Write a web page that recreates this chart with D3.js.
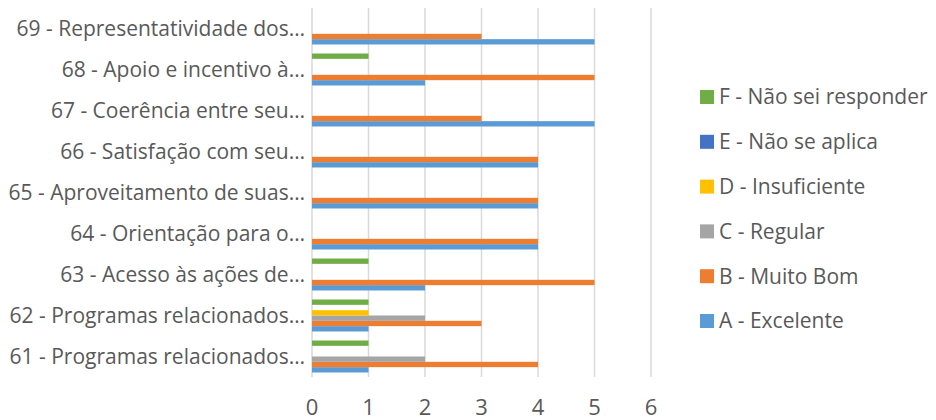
<!DOCTYPE html>
<meta charset="utf-8">
<style>
body { margin: 0; background: #fff; }
text { font-family: "Open Sans", sans-serif; fill: #595959; }
</style>
<body>
<svg width="936" height="420"></svg>
<script src="https://cdn.jsdelivr.net/npm/d3@7"></script>
<script>

var categories = [
  "61 - Programas relacionados…",
  "62 - Programas relacionados…",
  "63 - Acesso às ações de…",
  "64 - Orientação para o…",
  "65 - Aproveitamento de suas…",
  "66 - Satisfação com seu…",
  "67 - Coerência entre seu…",
  "68 - Apoio e incentivo à…",
  "69 - Representatividade dos…"
];
var seriesNames = ["A - Excelente", "B - Muito Bom", "C - Regular", "D - Insuficiente", "E - Não se aplica", "F - Não sei responder"];
var seriesColors = ["#5B9BD5", "#ED7D31", "#A5A5A5", "#FFC000", "#4472C4", "#70AD47"];

// values per category, same order as categories
var valA = [1, 1, 2, 4, 4, 4, 5, 2, 5];
var valB = [4, 3, 5, 4, 4, 4, 3, 5, 3];
var valC = [2, 2, 0, 0, 0, 0, 0, 0, 0];
var valD = [0, 1, 0, 0, 0, 0, 0, 0, 0];
var valE = [0, 0, 0, 0, 0, 0, 0, 0, 0];
var valF = [1, 1, 1, 0, 0, 0, 0, 1, 0];
var xTicks = [0, 1, 2, 3, 4, 5, 6];

var allVals = [valA, valB, valC, valD, valE, valF];

var svg = d3.select("svg");

var x = d3.scaleLinear().domain([0, 6]).range([312, 651]);

var y = d3.scaleBand()
    .domain(categories.slice().reverse())
    .range([8, 377])
    .paddingInner(0.22)
    .paddingOuter(0.11);

var ySub = d3.scaleBand()
    .domain(seriesNames.slice().reverse())
    .range([0, y.bandwidth()]);

// gridlines
svg.append("g")
  .selectAll("line")
  .data(xTicks)
  .enter().append("line")
    .attr("x1", function(d) { return x(d); })
    .attr("x2", function(d) { return x(d); })
    .attr("y1", 8)
    .attr("y2", 377)
    .attr("stroke", "#D9D9D9")
    .attr("stroke-width", 1.5);

// bars
var rows = [];
categories.forEach(function(c, i) {
  seriesNames.forEach(function(s, j) {
    rows.push({ cat: c, ser: s, value: allVals[j][i], color: seriesColors[j] });
  });
});

svg.append("g")
  .selectAll("rect")
  .data(rows.filter(function(d) { return d.value > 0; }))
  .enter().append("rect")
    .attr("x", x(0))
    .attr("y", function(d) { return y(d.cat) + ySub(d.ser); })
    .attr("width", function(d) { return x(d.value) - x(0); })
    .attr("height", ySub.bandwidth())
    .attr("fill", function(d) { return d.color; });

// category labels
svg.append("g")
  .selectAll("text")
  .data(categories)
  .enter().append("text")
    .attr("x", 305)
    .attr("y", function(d) { return y(d) + y.bandwidth() / 2; })
    .attr("dy", "0.35em")
    .attr("text-anchor", "end")
    .attr("font-size", "21px")
    .text(function(d) { return d; });

// x tick labels
svg.append("g")
  .selectAll("text")
  .data(xTicks)
  .enter().append("text")
    .attr("x", function(d) { return x(d); })
    .attr("y", 415)
    .attr("text-anchor", "middle")
    .attr("font-size", "22px")
    .text(function(d) { return d; });

// legend
var legend = svg.append("g")
  .selectAll("g")
  .data(seriesNames.slice().reverse())
  .enter().append("g")
    .attr("transform", function(d, i) { return "translate(700," + (97 + i * 44.8) + ")"; });

legend.append("rect")
    .attr("x", 0)
    .attr("y", -7)
    .attr("width", 14)
    .attr("height", 14)
    .attr("fill", function(d) { return seriesColors[seriesNames.indexOf(d)]; });

legend.append("text")
    .attr("x", 19)
    .attr("y", 0)
    .attr("dy", "0.35em")
    .attr("font-size", "21px")
    .text(function(d) { return d; });

</script>
</body>
